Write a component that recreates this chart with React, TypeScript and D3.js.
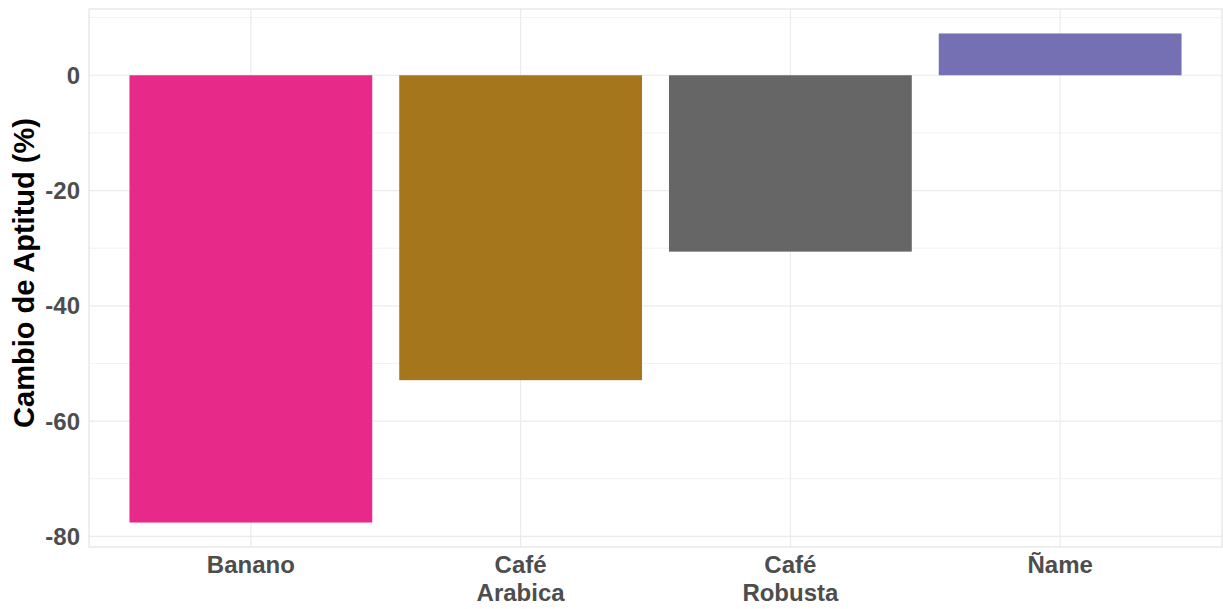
import React from "react";
import * as d3 from "d3";

const categories = ["Banano", "Café\nArabica", "Café\nRobusta", "Ñame"];
const values = [-77.6, -52.9, -30.6, 7.25];
const colors = ["#E7298A", "#A6761D", "#666666", "#7570B3"];
const yTicks = [0, -20, -40, -60, -80];
const yMinorTicks = [10, -10, -30, -50, -70];
const yTitle = "Cambio de Aptitud (%)";

const W = 1223;
const H = 609;
const margin = { left: 89, right: 1, top: 9, bottom: 62 };

export default function App() {
  const x0 = margin.left;
  const x1 = W - margin.right;
  const y0 = margin.top;
  const y1 = H - margin.bottom;

  const lo = d3.min(values)!;
  const hi = d3.max(values)!;
  const pad = (hi - lo) * 0.05;
  const y = d3.scaleLinear().domain([lo - pad, hi + pad]).range([y1, y0]);

  // discrete x scale with ggplot expansion of 0.6 units
  const unit = (x1 - x0) / (categories.length - 1 + 1.2);
  const x = d3
    .scalePoint<string>()
    .domain(categories)
    .range([x0 + 0.6 * unit, x1 - 0.6 * unit]);
  const bw = unit * 0.9;

  const font = "'Liberation Sans', Arial, Helvetica, sans-serif";
  const [dMin, dMax] = y.domain();

  return (
    <svg
      width={W}
      height={H}
      style={{ position: "absolute", left: 0, top: 0, background: "#fff" }}
    >
      <rect x={0} y={0} width={W} height={H} fill="#fff" />
      {/* minor grid */}
      {yMinorTicks
        .filter((t) => t > dMin && t < dMax)
        .map((t) => (
          <line key={"m" + t} x1={x0} x2={x1} y1={y(t)} y2={y(t)} stroke="#f2f2f2" strokeWidth={1} />
        ))}
      {/* major grid */}
      {yTicks.map((t) => (
        <line key={"g" + t} x1={x0} x2={x1} y1={y(t)} y2={y(t)} stroke="#ebebeb" strokeWidth={1.2} />
      ))}
      {categories.map((c) => (
        <line key={"v" + c} x1={x(c)!} x2={x(c)!} y1={y0} y2={y1} stroke="#ebebeb" strokeWidth={1.2} />
      ))}
      {/* bars */}
      {categories.map((c, i) => {
        const v = values[i];
        const top = y(Math.max(0, v));
        const bot = y(Math.min(0, v));
        return (
          <rect
            key={"b" + c}
            x={x(c)! - bw / 2}
            y={top}
            width={bw}
            height={bot - top}
            fill={colors[i]}
          />
        );
      })}
      {/* panel border */}
      <rect x={x0} y={y0} width={x1 - x0} height={y1 - y0} fill="none" stroke="#e3e3e3" strokeWidth={1.2} />
      {/* y tick labels */}
      {yTicks.map((t) => (
        <text
          key={"t" + t}
          x={x0 - 9}
          y={y(t)}
          dy="0.36em"
          textAnchor="end"
          fontFamily={font}
          fontWeight="bold"
          fontSize={24}
          fill="#4d4d4d"
        >
          {t}
        </text>
      ))}
      {/* x labels */}
      {categories.map((c) => (
        <text
          key={"x" + c}
          x={x(c)!}
          y={y1 + 26}
          textAnchor="middle"
          fontFamily={font}
          fontWeight="bold"
          fontSize={24}
          fill="#4d4d4d"
        >
          {c.split("\n").map((line, j) => (
            <tspan key={j} x={x(c)!} dy={j === 0 ? 0 : 28}>
              {line}
            </tspan>
          ))}
        </text>
      ))}
      {/* y title */}
      <text
        transform={`translate(${34},${273}) rotate(-90)`}
        textAnchor="middle"
        fontFamily={font}
        fontWeight="bold"
        fontSize={29}
        fill="#000"
      >
        {yTitle}
      </text>
    </svg>
  );
}
